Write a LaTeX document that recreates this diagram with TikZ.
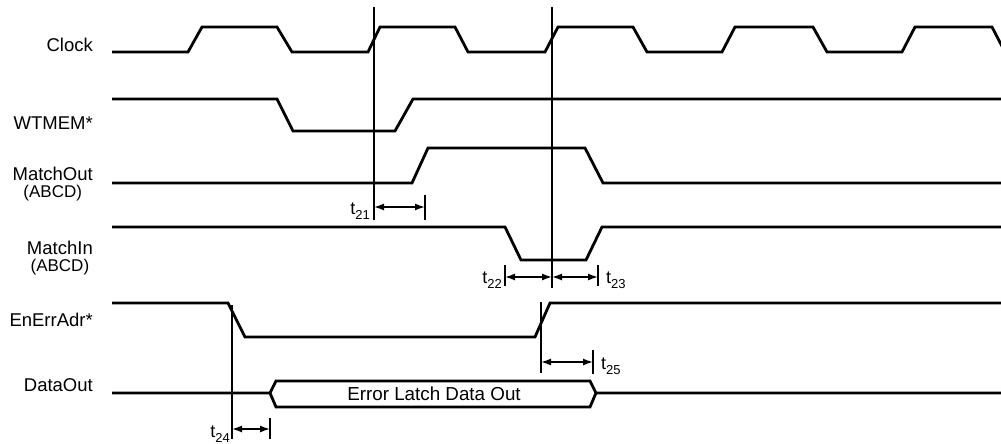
\documentclass[tikz,border=0pt]{standalone}
\usepackage{fontspec}
\setmainfont{Liberation Sans}
\usetikzlibrary{arrows.meta}
\newcommand{\tsub}[1]{t\raisebox{-4.5pt}{\fontsize{13}{13}\selectfont #1}}
\begin{document}
\begin{tikzpicture}[x=1pt,y=-1pt,
  sig/.style={line width=2.8pt, line join=miter},
  refline/.style={line width=1.2pt},
  tickmark/.style={line width=1.2pt},
  dimarrow/.style={line width=1.4pt, {Latex[length=10pt,width=7pt]}-{Latex[length=10pt,width=7pt]}},
  lbl/.style={font=\fontsize{18.5}{18.5}\selectfont, anchor=east, inner sep=0pt},
  sublbl/.style={font=\fontsize{17}{18}\selectfont, inner sep=0pt},
  tlbl/.style={font=\fontsize{18}{18}\selectfont, inner sep=0pt},
  buslbl/.style={font=\fontsize{18.8}{18.8}\selectfont, inner sep=0pt}]
\path[use as bounding box] (0,0) rectangle (1001,444);
\clip (0,0) rectangle (1001,444);

% signal names
\node[lbl] (nclk) at (93,45) {Clock};
\node[lbl] (nwt) at (93,123) {WTMEM*};
\node[lbl] (nmo) at (93,174) {MatchOut};
\node[sublbl] (nmo2) at (nmo.south) [anchor=north, yshift=-4pt] {(ABCD)};
\node[lbl] (nmi) at (93,248) {MatchIn};
\node[sublbl] (nmi2) at (nmi.south) [anchor=north, yshift=-4pt] {(ABCD)};
\node[lbl] (nen) at (93,320) {EnErrAdr*};
\node[lbl] (ndo) at (93,385) {DataOut};

% Clock
\draw[sig] (112,52) -- (188,52) -- (202,27) -- (277,27) -- (292,52) -- (368,52)
  -- (380,27) -- (455,27) -- (468,52) -- (545,52) -- (558,27) -- (633,27)
  -- (647,52) -- (722,52) -- (735,27) -- (813,27) -- (827,52) -- (902,52)
  -- (915,27) -- (992,27) -- (1006,54);
% WTMEM*
\draw[sig] (112,99) -- (277,99) -- (293,131) -- (395,131) -- (413,99) -- (1005,99);
% MatchOut
\draw[sig] (112,183) -- (412,183) -- (428,148) -- (585,148) -- (603,183) -- (1005,183);
% MatchIn
\draw[sig] (112,227) -- (505,227) -- (521,260) -- (586,260) -- (602,227) -- (1005,227);
% EnErrAdr*
\draw[sig] (112,303) -- (228,303) -- (245,337) -- (535,337) -- (550,303) -- (1005,303);
% DataOut
\draw[sig] (112,393) -- (270,393) -- (276,381) -- (590,381) -- (596,393) -- (1005,393);
\draw[sig] (270,393) -- (276,407) -- (590,407) -- (596,393);
\node[buslbl] (bus) at (434,394) {Error Latch Data Out};

% reference lines
\coordinate (r1top) at (374,7);   \coordinate (r1bot) at (374,220);
\coordinate (r2top) at (552,7);   \coordinate (r2bot) at (552,288);
\coordinate (r3top) at (541,302); \coordinate (r3bot) at (541,373);
\coordinate (r4top) at (232,305); \coordinate (r4bot) at (232,439);
\draw[refline] (r1top) -- (r1bot);
\draw[refline] (r2top) -- (r2bot);
\draw[refline] (r3top) -- (r3bot);
\draw[refline] (r4top) -- (r4bot);

% ticks
\coordinate (k21a) at (425,195); \coordinate (k21b) at (425,220);
\coordinate (k22a) at (505,265); \coordinate (k22b) at (505,286);
\coordinate (k23a) at (598,265); \coordinate (k23b) at (598,286);
\coordinate (k24a) at (270,418); \coordinate (k24b) at (270,439);
\coordinate (k25a) at (593,350); \coordinate (k25b) at (593,374);
\draw[tickmark] (k21a) -- (k21b);
\draw[tickmark] (k22a) -- (k22b);
\draw[tickmark] (k23a) -- (k23b);
\draw[tickmark] (k24a) -- (k24b);
\draw[tickmark] (k25a) -- (k25b);

% dimension arrows
\coordinate (a21l) at (374,207); \coordinate (a21r) at (425,207);
\coordinate (a22l) at (505,277); \coordinate (a22r) at (552,277);
\coordinate (a23l) at (552,277); \coordinate (a23r) at (598,277);
\coordinate (a24l) at (232,429); \coordinate (a24r) at (270,429);
\coordinate (a25l) at (541,362); \coordinate (a25r) at (593,362);
\draw[dimarrow] (a21l) -- (a21r);
\draw[dimarrow] (a22l) -- (a22r);
\draw[dimarrow] (a23l) -- (a23r);
\draw[dimarrow] (a24l) -- (a24r);
\draw[dimarrow] (a25l) -- (a25r);

% timing labels
\node[tlbl, anchor=east] (t21) at (370,211) {\tsub{21}};
\node[tlbl, anchor=east] (t22) at (502,280) {\tsub{22}};
\node[tlbl, anchor=west] (t23) at (606,280) {\tsub{23}};
\node[tlbl, anchor=east] (t24) at (230,434) {\tsub{24}};
\node[tlbl, anchor=west] (t25) at (601,366) {\tsub{25}};
\end{tikzpicture}
\end{document}
